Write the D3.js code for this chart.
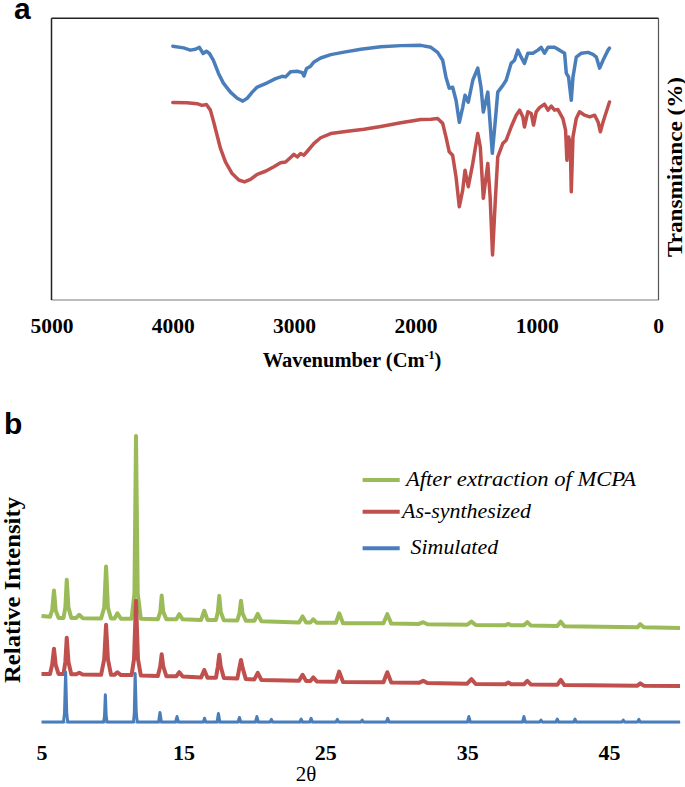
<!DOCTYPE html>
<html>
<head>
<meta charset="utf-8">
<script src="https://cdn.jsdelivr.net/npm/d3@7/dist/d3.min.js"></script>
<style>
html,body{margin:0;padding:0;background:#fff;}
svg{display:block;}
</style>
</head>
<body>
<svg id="chart" width="685" height="787"></svg>
<script>
// ---------- Panel a: FT-IR ----------
const irTicks = [5000, 4000, 3000, 2000, 1000, 0];
// [wavenumber, transmittance]
const irBlue = [[4000,90.1],[3911,89.5],[3855,88.7],[3814,89.0],[3781,89.7],[3750,87.5],[3723,88.3],[3698,87.5],[3665,85.1],[3624,80.5],[3583,77.0],[3525,73.8],[3469,71.6],[3423,70.6],[3387,71.6],[3345,73.8],[3304,75.6],[3221,77.1],[3153,78.6],[3098,79.4],[3070,79.2],[3029,81.0],[2974,81.2],[2932,80.7],[2919,79.5],[2897,82.2],[2864,83.0],[2836,84.5],[2781,85.9],[2698,87.1],[2588,88.0],[2450,89.0],[2285,89.9],[2120,90.3],[1955,90.4],[1872,89.7],[1817,87.9],[1775,85.1],[1748,79.1],[1721,75.2],[1693,75.5],[1665,70.9],[1638,63.1],[1610,68.4],[1591,72.7],[1564,70.2],[1527,78.0],[1486,82.3],[1459,75.5],[1440,66.7],[1403,73.8],[1366,52.1],[1341,63.8],[1321,73.8],[1279,76.2],[1252,78.0],[1211,84.0],[1183,85.1],[1155,88.7],[1128,86.2],[1101,84.0],[1073,87.6],[1031,87.6],[990,88.7],[963,89.7],[936,87.6],[907,89.7],[853,89.7],[812,88.7],[770,87.6],[756,80.5],[737,79.1],[715,70.9],[701,79.1],[674,86.2],[632,87.6],[577,87.9],[536,87.2],[508,86.2],[481,82.3],[453,85.1],[412,88.7],[400,89.4]];
const irRed = [[4000,70.1],[3883,70.0],[3800,69.7],[3759,69.1],[3723,69.4],[3690,67.4],[3663,63.2],[3635,58.5],[3607,53.8],[3566,49.0],[3511,44.9],[3456,42.6],[3409,41.9],[3360,42.8],[3304,44.6],[3236,45.7],[3167,47.3],[3112,48.7],[3070,49.0],[3029,50.6],[3002,51.7],[2974,50.8],[2946,52.0],[2919,51.4],[2891,52.8],[2836,55.6],[2781,57.6],[2698,59.1],[2560,59.9],[2423,60.6],[2285,61.6],[2120,62.9],[1955,64.1],[1872,64.2],[1817,64.4],[1775,62.7],[1748,57.9],[1721,52.6],[1693,51.4],[1665,43.7],[1638,33.1],[1610,39.0],[1591,46.1],[1564,40.2],[1527,48.5],[1486,59.1],[1465,54.4],[1440,36.1],[1403,48.5],[1384,36.6],[1364,16.0],[1341,35.5],[1321,50.8],[1279,55.6],[1252,56.7],[1211,61.4],[1169,65.6],[1141,67.4],[1114,65.0],[1101,61.4],[1073,66.8],[1045,66.2],[1026,62.1],[1004,66.8],[977,68.3],[936,69.5],[907,67.4],[880,68.8],[853,67.4],[825,67.6],[784,64.4],[762,60.3],[751,49.6],[737,57.9],[723,55.6],[715,38.4],[701,57.9],[674,64.4],[647,66.8],[605,65.6],[563,65.0],[522,65.6],[494,63.2],[475,59.7],[453,63.2],[426,66.8],[400,70.3]];

// ---------- Panel b: PXRD ----------
const xrdTicks = [5, 15, 25, 35, 45];
const xrdNames = ["After extraction of MCPA", "As-synthesized", "Simulated"];
// [2theta, intensity]
const xrdGreen = [[5.0,371],[5.6,368],[5.75,390],[5.88,460],[6.0,390],[6.2,364],[6.55,364],[6.68,400],[6.78,497],[6.9,400],[7.1,364],[7.45,364],[7.66,375],[7.9,363],[9.2,362],[9.42,400],[9.55,544],[9.68,400],[9.9,362],[10.15,362],[10.35,380],[10.6,361],[11.35,361],[11.55,450],[11.66,1000],[11.78,450],[12.0,361],[13.2,359],[13.37,385],[13.47,442],[13.58,385],[13.8,359],[14.5,359],[14.71,377],[14.95,359],[16.25,357],[16.47,389],[16.7,357],[17.3,357],[17.43,385],[17.53,441],[17.63,385],[17.85,356],[18.8,355],[18.95,380],[19.06,424],[19.17,380],[19.4,354],[20.0,354],[20.24,378],[20.5,352],[23.15,348],[23.4,369],[23.65,348],[23.95,348],[24.15,359],[24.4,347],[25.75,347],[25.98,380],[26.25,345],[29.1,345],[29.37,377],[29.65,344],[31.6,343],[31.9,349],[32.2,342],[35.0,340],[35.3,351],[35.6,339],[37.7,338],[37.9,343],[38.1,338],[39.0,338],[39.24,349],[39.5,337],[41.35,336],[41.6,351],[41.85,335],[47.0,331],[47.2,342],[47.45,331],[50.0,329]];
const xrdRed = [[5.0,168],[5.6,168],[5.75,200],[5.88,256],[6.0,200],[6.2,168],[6.55,168],[6.68,210],[6.78,295],[6.9,210],[7.1,167],[7.45,167],[7.66,172],[7.9,166],[9.2,165],[9.42,220],[9.55,340],[9.68,220],[9.9,165],[10.15,165],[10.35,174],[10.6,164],[11.35,164],[11.52,220],[11.66,424],[11.8,220],[12.0,163],[13.2,161],[13.37,195],[13.47,237],[13.58,195],[13.8,160],[14.5,160],[14.71,174],[14.95,159],[16.25,156],[16.47,182],[16.7,155],[17.3,155],[17.43,195],[17.53,235],[17.63,195],[17.85,154],[18.8,152],[18.95,190],[19.06,217],[19.17,190],[19.4,150],[20.0,149],[20.24,172],[20.5,147],[23.15,144],[23.4,165],[23.65,143],[23.95,143],[24.15,156],[24.4,142],[25.75,141],[25.98,176],[26.25,140],[29.1,139],[29.37,174],[29.65,138],[31.6,137],[31.9,144],[32.2,136],[35.0,134],[35.3,150],[35.6,133],[37.7,132],[37.9,138],[38.1,132],[39.0,132],[39.24,144],[39.5,131],[41.35,130],[41.6,147],[41.85,129],[47.0,127],[47.2,135],[47.45,127],[50.0,126]];
const xrdBlue = [[5.0,0],[6.55,0],[6.62,30],[6.7,175],[6.78,30],[6.85,0],[9.38,0],[9.44,20],[9.5,95],[9.56,20],[9.62,0],[11.48,0],[11.54,30],[11.6,170],[11.68,30],[11.75,0],[13.25,0],[13.35,33],[13.45,0],[14.45,0],[14.55,19],[14.65,0],[16.4,0],[16.49,13],[16.58,0],[17.37,0],[17.47,30],[17.57,0],[18.85,0],[18.95,16],[19.05,0],[20.08,0],[20.18,19],[20.28,0],[21.1,0],[21.2,9],[21.3,0],[23.2,0],[23.3,10],[23.4,0],[23.9,0],[24.0,13],[24.1,0],[25.75,0],[25.85,9],[25.95,0],[27.5,0],[27.6,7],[27.7,0],[29.3,0],[29.4,13],[29.5,0],[35.02,0],[35.12,19],[35.22,0],[38.9,0],[39.0,19],[39.1,0],[40.1,0],[40.2,7],[40.3,0],[41.25,0],[41.35,10],[41.45,0],[42.5,0],[42.6,10],[42.7,0],[45.9,0],[46.0,7],[46.1,0],[47.0,0],[47.1,9],[47.2,0],[50.0,0]];

const BLUE = "#4a7ebb", RED = "#c0504d", GREEN = "#9bbb59";
const SERIF = "'Liberation Serif','Times New Roman',serif";
const SANS = "'Liberation Sans',Arial,sans-serif";

const svg = d3.select("#chart");

// ===== Panel a =====
const A = {l: 51.5, r: 658.5, t: 18.3, b: 300};
const xA = d3.scaleLinear().domain([5000, 0]).range([A.l, 658]);
const yA = d3.scaleLinear().domain([0, 100]).range([A.b, A.t]);

svg.append("text").text("a").attr("x", 14).attr("y", 19)
  .attr("font-family", SANS).attr("font-weight", "bold").attr("font-size", 30);

// plot-area frame
svg.append("line").attr("x1", A.l).attr("x2", A.r).attr("y1", A.b).attr("y2", A.b).attr("stroke", "#a6a6a6").attr("stroke-width", 1.5);
svg.append("line").attr("x1", A.l).attr("x2", A.l).attr("y1", A.t).attr("y2", A.b).attr("stroke", "#222").attr("stroke-width", 1.5);
svg.append("line").attr("x1", A.l).attr("x2", A.r).attr("y1", A.t).attr("y2", A.t).attr("stroke", "#222").attr("stroke-width", 1.5);
svg.append("line").attr("x1", A.r).attr("x2", A.r).attr("y1", A.t).attr("y2", A.b).attr("stroke", "#555").attr("stroke-width", 1.2);

const axA = svg.append("g").attr("transform", `translate(0,${A.b})`)
  .call(d3.axisBottom(xA).tickValues(irTicks).tickSize(0).tickFormat(d3.format("d")));
axA.select(".domain").remove();
axA.selectAll("text").attr("y", 33).attr("dy", null)
  .attr("font-family", SERIF).attr("font-weight", "bold").attr("font-size", 21.5).attr("fill", "#000");

const lineA = d3.line().x(d => xA(d[0])).y(d => yA(d[1]));
[[irBlue, BLUE], [irRed, RED]].forEach(([data, c]) => {
  svg.append("path").datum(data).attr("d", lineA).attr("fill", "none")
    .attr("stroke", c).attr("stroke-width", 3.5).attr("stroke-linejoin", "round").attr("stroke-linecap", "round");
});

const wl = svg.append("text").attr("x", 352).attr("y", 367).attr("text-anchor", "middle")
  .attr("font-family", SERIF).attr("font-weight", "bold").attr("font-size", 20.5);
wl.append("tspan").text("Wavenumber (Cm");
wl.append("tspan").text("-1").attr("font-size", 12).attr("dy", -8);
wl.append("tspan").text(")").attr("dy", 8);

svg.append("text").text("Transmitance (%)")
  .attr("transform", "translate(682,167) rotate(-90)").attr("text-anchor", "middle")
  .attr("font-family", SERIF).attr("font-weight", "bold").attr("font-size", 21)
  .attr("textLength", 180).attr("lengthAdjust", "spacingAndGlyphs");

// ===== Panel b =====
const xB = d3.scaleLinear().domain([5, 50]).range([41.5, 680]);
const yB = d3.scaleLinear().domain([0, 1000]).range([722, 436]);

svg.append("text").text("b").attr("x", 4).attr("y", 434)
  .attr("font-family", SANS).attr("font-weight", "bold").attr("font-size", 30);

const axB = svg.append("g").attr("transform", `translate(0,722)`)
  .call(d3.axisBottom(xB).tickValues(xrdTicks).tickSize(0));
axB.select(".domain").attr("stroke", "#9db3d6").attr("stroke-width", 1.5);
axB.selectAll("text").attr("y", 38).attr("dy", null)
  .attr("font-family", SERIF).attr("font-weight", "bold").attr("font-size", 22).attr("fill", "#000");

const lineB = d3.line().x(d => xB(d[0])).y(d => yB(d[1]));
[[xrdGreen, GREEN, 4], [xrdRed, RED, 4], [xrdBlue, BLUE, 3]].forEach(([data, c, w]) => {
  svg.append("path").datum(data).attr("d", lineB).attr("fill", "none")
    .attr("stroke", c).attr("stroke-width", w).attr("stroke-linejoin", "round");
});

svg.append("text").text("2θ").attr("x", 306).attr("y", 781).attr("text-anchor", "middle")
  .attr("font-family", SERIF).attr("font-size", 21);

svg.append("text").text("Relative Intensity")
  .attr("transform", "translate(20,590) rotate(-90)").attr("text-anchor", "middle")
  .attr("font-family", SERIF).attr("font-weight", "bold").attr("font-size", 24)
  .attr("textLength", 186).attr("lengthAdjust", "spacingAndGlyphs");

// legend
const legY = [480, 511.7, 548.3];
const legTX = [406, 402, 410.6];
const legTW = [230, 129, 87.5];
const legC = [GREEN, RED, BLUE];
xrdNames.forEach((name, i) => {
  svg.append("line").attr("x1", 362.6).attr("x2", 399.7).attr("y1", legY[i]).attr("y2", legY[i])
    .attr("stroke", legC[i]).attr("stroke-width", 4);
  svg.append("text").text(name).attr("x", legTX[i]).attr("y", legY[i] + 6)
    .attr("font-family", SERIF).attr("font-style", "italic").attr("font-size", 20)
    .attr("textLength", legTW[i]).attr("lengthAdjust", "spacingAndGlyphs");
});
</script>
</body>
</html>
